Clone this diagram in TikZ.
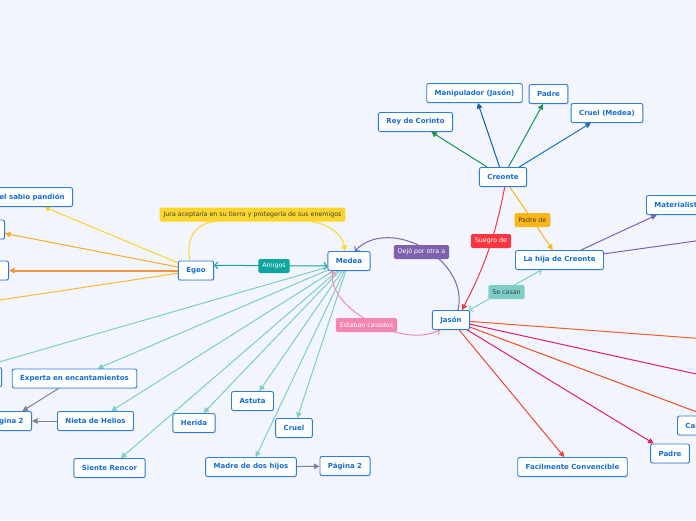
\documentclass[tikz,border=0pt]{standalone}
\usepackage{fontspec}
\setmainfont{DejaVu Sans}
\usetikzlibrary{arrows.meta,shadows}
\definecolor{bgcol}{RGB}{242,245,253}
\definecolor{boxcol}{RGB}{45,125,215}
\definecolor{txtcol}{RGB}{22,108,212}
\definecolor{tealcol}{RGB}{14,166,158}
\definecolor{ltealcol}{RGB}{125,206,198}
\definecolor{yelcol}{RGB}{250,214,45}
\definecolor{orgcol}{RGB}{249,170,40}
\definecolor{deeporgcol}{RGB}{246,148,62}
\definecolor{amberorgcol}{RGB}{251,185,45}
\definecolor{purpcol}{RGB}{125,98,172}
\definecolor{pinkcol}{RGB}{243,135,178}
\definecolor{redcol}{RGB}{250,55,65}
\definecolor{ambcol}{RGB}{252,182,22}
\definecolor{greencol}{RGB}{24,150,80}
\definecolor{bluecol}{RGB}{18,95,175}
\definecolor{midbluecol}{RGB}{22,115,185}
\definecolor{redorgcol}{RGB}{242,96,40}
\definecolor{magcol}{RGB}{228,30,100}
\definecolor{tomcol}{RGB}{244,70,54}
\definecolor{greycol}{RGB}{128,130,140}
\definecolor{darktxt}{RGB}{60,60,60}
\pgfdeclarelayer{back}
\pgfdeclarelayer{links}
\pgfsetlayers{back,links,main}

\begin{document}
\begin{tikzpicture}[
    x=1pt, y=-1pt,
    >={Triangle[length=5.5pt,width=5.5pt]},
    topic/.style={draw=boxcol, fill=white, line width=0.9pt, rounded corners=2pt, minimum height=19pt, inner xsep=8pt, inner ysep=0pt, text=txtcol, font=\fontsize{7}{8}\selectfont\bfseries, drop shadow={shadow xshift=0.6pt, shadow yshift=-1.2pt, opacity=0.2}},
    tag/.style={rounded corners=1.5pt, minimum height=14pt, inner xsep=4pt, inner ysep=0pt, font=\fontsize{6.3}{7}\selectfont},
    link/.style={->, line width=1pt},
    rel/.style={{Straight Barb[length=3pt,width=7pt]}-{Straight Barb[length=3pt,width=7pt]}, line width=1pt},
]
\begin{pgfonlayer}{back}
\fill[bgcol] (0,0) rectangle (696,520);
\end{pgfonlayer}
\useasboundingbox (0,0) rectangle (696,520);

% central topics
\node[topic] (medea) at (349,261) {Medea};
\node[topic] (egeo) at (196,270.5) {Egeo};
\node[topic] (jason) at (451,320) {Jasón};
\node[topic] (creonte) at (503,177) {Creonte};
\node[topic] (hija) at (559.5,260) {La hija de Creonte};

% Creonte
\node[topic] (rey) at (415.5,122) {Rey de Corinto};
\node[topic] (manip) at (474.5,93) {Manipulador (Jasón)};
\node[topic] (padreA) at (548.5,94) {Padre};
\node[topic] (cruelM) at (607,113) {Cruel (Medea)};
\node[topic, anchor=west] (mater) at (646,205) {Materialista};
\coordinate (hijaoff) at (760,232);

% Egeo
\node[topic, anchor=east] (pandion) at (73,197) {Hijo del sabio pandión};
\node[topic, anchor=east, minimum width=40pt] (egeoB) at (5,229.5) {};
\node[topic, anchor=east, minimum width=40pt] (egeoC) at (9,270.5) {};
\coordinate (egeoD) at (-40,306);

% Medea
\node[topic, anchor=east, minimum width=40pt] (medeaA) at (2,377) {};
\node[topic] (experta) at (74.5,378.5) {Experta en encantamientos};
\node[topic] (nieta) at (95.5,421) {Nieta de Helios};
\node[topic] (rencor) at (109.5,468) {Siente Rencor};
\node[topic] (herida) at (194,423) {Herida};
\node[topic] (astuta) at (252.5,401) {Astuta};
\node[topic] (cruel) at (294,428) {Cruel};
\node[topic] (madre) at (251,467) {Madre de dos hijos};
\node[topic, anchor=east] (pagA) at (32,421) {Página 2};
\node[topic] (pagB) at (345,466) {Página 2};

% Jason
\node[topic] (facil) at (572.5,467) {Facilmente Convencible};
\node[topic] (padreB) at (670,453.5) {Padre};
\node[topic, anchor=west] (calc) at (677,425.5) {Calculador};
\coordinate (jasA) at (760,343);
\coordinate (jasB) at (760,388);

% relation tags
\node[tag, fill=yelcol, text=darktxt] (jura) at (252.5,214.5) {Jura aceptaría en su tierra y protegería de sus enemigos};
\node[tag, fill=tealcol, text=white] (amigos) at (274,266) {Amigos};
\node[tag, fill=purpcol, text=white] (dejo) at (421.5,252) {Dejó por otra a};
\node[tag, fill=pinkcol, text=white] (casados) at (366.5,325) {Estaban casados};
\node[tag, fill=redcol, text=white] (suegro) at (491,241) {Suegro de};
\node[tag, fill=ambcol, text=darktxt] (padrede) at (532.5,220) {Padre de};
\node[tag, fill=ltealcol, text=darktxt] (secasan) at (506.5,292) {Se casan};

\begin{pgfonlayer}{links}
\draw[link, yelcol] (egeo) -- (pandion);
\draw[link, orgcol] (egeo) -- (egeoB);
\draw[link, deeporgcol, line width=2pt] (egeo) -- (egeoC);
\draw[link, amberorgcol] (egeo) -- (egeoD);

\foreach \t in {medeaA.north,experta,nieta,rencor,herida,astuta,cruel,madre}
    \draw[link, ltealcol] (medea) -- (\t);
\draw[link, greycol] (experta) -- (pagA);
\draw[link, greycol] (nieta) -- (pagA);
\draw[link, greycol] (madre) -- (pagB);

\draw[link, greencol] (creonte) -- (rey);
\draw[link, bluecol] (creonte) -- (manip);
\draw[link, greencol!90!teal] (creonte) -- (padreA);
\draw[link, midbluecol] (creonte) -- (cruelM);
\draw[link, purpcol] (hija) -- (mater);
\draw[link, purpcol] (hija) -- (hijaoff);

\draw[link, redorgcol] (jason) -- (jasA);
\draw[link, magcol] (jason) -- (jasB);
\draw[link, redorgcol!80!red] (jason) -- (calc.north);
\draw[link, magcol] (jason) -- (padreB);
\draw[link, tomcol] (jason) -- (facil);

\draw[yelcol, line width=1pt] (egeo.122) .. controls (186,238) and (195,223) .. (jura.191);
\draw[link, yelcol] (jura.-7) .. controls (330,224) and (343,236) .. (medea.112);
\draw[rel, tealcol] (egeo.16) -- (medea.193);
\draw[link, purpcol, -{Straight Barb[length=3pt,width=7pt]}] (jason.55) .. controls (470,260) and (390,215) .. (medea.60);
\draw[rel, pinkcol] (medea.212) .. controls (325,305) and (400,350) .. (jason.222);
\draw[link, redcol] (creonte.-80) to[bend left=8] (jason.42);
\draw[link, ambcol] (creonte) -- (hija);
\draw[rel, ltealcol] (hija) -- (jason);
\end{pgfonlayer}
\end{tikzpicture}
\end{document}
